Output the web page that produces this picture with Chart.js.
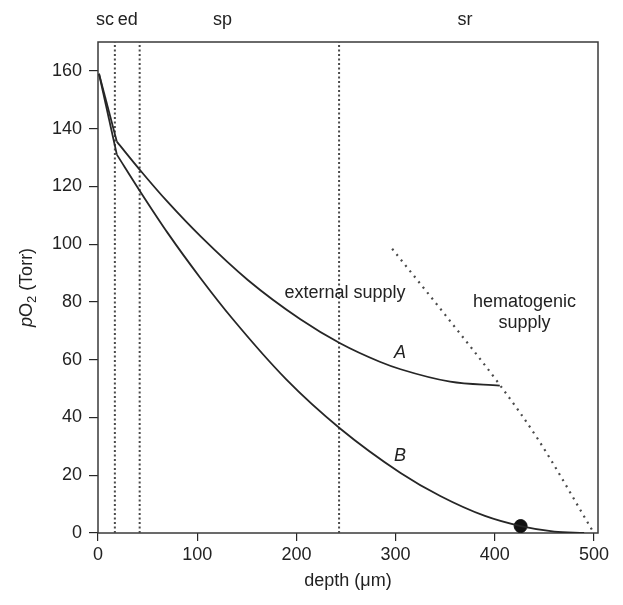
<!DOCTYPE html>
<html>
<head>
<meta charset="utf-8">
<script src="https://cdn.jsdelivr.net/npm/chart.js@4.4.1/dist/chart.umd.min.js"></script>
<style>
  html, body { margin: 0; padding: 0; background: #fff; }
  #wrap { width: 623px; height: 605px; }
</style>
</head>
<body>
<div id="wrap"><canvas id="myChart" width="623" height="605"></canvas></div>
<script>
// start of both profiles at the skin surface
const startDepth = 1;
const startPo2 = 159;

// curve A (external supply)
const depthA = [19, 44, 70, 104, 151, 204, 244, 284, 305, 355, 405];
const po2A = [135.5, 125, 114.7, 102.5, 87.6, 74, 65.7, 59.3, 56.7, 52.4, 51];

// curve B
const depthB = [19, 43, 70, 103, 136, 190, 244, 305, 345, 390, 426, 460, 490];
const po2B = [131, 118, 104, 88.4, 74, 53.1, 36.2, 20.8, 12.8, 5.9, 2.4, 0.5, 0];

// hematogenic supply (dotted)
const hemDepth = [296.5, 350, 405, 444, 499];
const hemPo2 = [98.4, 75.5, 51.3, 32.2, 0.5];

// marked point on B
const dotDepth = [426];
const dotPo2 = [2.4];

// layer boundaries and names
const boundaries = [17, 42, 243];
const layerNames = ['sc', 'ed', 'sp', 'sr'];
const layerCenters = [7, 30, 125.5, 370];

// tick labels
const xTicks = [0, 100, 200, 300, 400, 500];
const yTicks = [0, 20, 40, 60, 80, 100, 120, 140, 160];

const ink = '#262626';
const font = '"Liberation Sans", Arial, sans-serif';
Chart.defaults.font.family = font;
Chart.defaults.font.size = 18;
Chart.defaults.color = '#222';

const toPts = (xs, ys) => xs.map((x, i) => ({ x: x, y: ys[i] }));

const datasets = [
    { data: [{ x: startDepth, y: startPo2 }, { x: depthA[0], y: po2A[0] }], tension: 0 },
    { data: toPts(depthA, po2A), cubicInterpolationMode: 'monotone' },
    { data: [{ x: startDepth, y: startPo2 }, { x: depthB[0], y: po2B[0] }], tension: 0 },
    { data: toPts(depthB, po2B), cubicInterpolationMode: 'monotone' },
].map(d => Object.assign({
    showLine: true,
    borderColor: ink,
    borderWidth: 1.8,
    pointRadius: 0
}, d));

datasets.push({
    data: toPts(hemDepth, hemPo2),
    showLine: true,
    cubicInterpolationMode: 'monotone',
    borderColor: '#4a4a4a',
    borderWidth: 2.2,
    borderDash: [2, 5],
    pointRadius: 0
});

boundaries.forEach(b => {
    datasets.push({
        data: [{ x: b, y: 0 }, { x: b, y: 170 }],
        showLine: true,
        borderColor: '#4a4a4a',
        borderWidth: 2,
        borderDash: [2, 2.5],
        pointRadius: 0
    });
});

datasets.push({
    data: toPts(dotDepth, dotPo2),
    showLine: false,
    pointRadius: 6.5,
    pointBackgroundColor: '#111',
    pointBorderColor: '#111'
});

// frame, y title and text labels
const extras = {
    id: 'extras',
    beforeDatasetsDraw(chart) {
        const { ctx, chartArea: a } = chart;
        ctx.save();
        ctx.strokeStyle = '#3a3a3a';
        ctx.lineWidth = 1.5;
        ctx.strokeRect(a.left, a.top, a.right - a.left, a.bottom - a.top);
        ctx.restore();
    },
    afterDatasetsDraw(chart) {
        const { ctx, chartArea: a, scales } = chart;
        const px = v => scales.x.getPixelForValue(v);
        const py = v => scales.y.getPixelForValue(v);
        ctx.save();
        ctx.fillStyle = '#222';
        ctx.textAlign = 'center';
        ctx.textBaseline = 'middle';
        ctx.font = '18px ' + font;

        layerNames.forEach((n, i) => ctx.fillText(n, px(layerCenters[i]), 20));

        ctx.fillText('external supply', px(249), py(83));
        ctx.fillText('hematogenic', px(430), py(80));
        ctx.fillText('supply', px(430), py(72.7));

        ctx.font = 'italic 18px ' + font;
        ctx.fillText('A', px(304.5), py(62.3));
        ctx.fillText('B', px(304.5), py(26.7));

        // y axis title: pO2 (Torr)
        ctx.translate(27, (a.top + a.bottom) / 2);
        ctx.rotate(-Math.PI / 2);
        const parts = [
            { t: 'p', f: 'italic 18px ' + font, dy: 0 },
            { t: 'O', f: '18px ' + font, dy: 0 },
            { t: '2', f: '13px ' + font, dy: 5 },
            { t: ' (Torr)', f: '18px ' + font, dy: 0 }
        ];
        let total = 0;
        parts.forEach(p => { ctx.font = p.f; p.w = ctx.measureText(p.t).width; total += p.w; });
        let x0 = -total / 2;
        ctx.textAlign = 'left';
        parts.forEach(p => {
            ctx.font = p.f;
            ctx.fillText(p.t, x0, p.dy);
            x0 += p.w;
        });
        ctx.restore();
    }
};

const ctx = document.getElementById('myChart').getContext('2d');
new Chart(ctx, {
    type: 'scatter',
    data: { datasets: datasets },
    options: {
        responsive: false,
        animation: false,
        layout: { padding: { top: 42, right: 25, left: 0, bottom: 0 } },
        plugins: { legend: { display: false }, tooltip: { enabled: false } },
        scales: {
            x: {
                type: 'linear',
                min: 0,
                max: 504,
                afterFit: s => { s.height = 72; },
                afterBuildTicks: s => { s.ticks = xTicks.map(v => ({ value: v })); },
                ticks: { includeBounds: false, padding: 3, color: '#222', maxRotation: 0 },
                grid: { drawOnChartArea: false, tickLength: 8, color: ink, lineWidth: 1.2 },
                border: { display: false },
                title: { display: true, text: 'depth (μm)', color: '#222', padding: { top: 0, bottom: 13 } }
            },
            y: {
                type: 'linear',
                min: 0,
                max: 170,
                afterFit: s => { s.width = 98; },
                afterBuildTicks: s => { s.ticks = yTicks.map(v => ({ value: v })); },
                ticks: { includeBounds: false, padding: 7, color: '#222' },
                grid: { drawOnChartArea: false, tickLength: 9, color: ink, lineWidth: 1.2 },
                border: { display: false }
            }
        }
    },
    plugins: [extras]
});
</script>
</body>
</html>
